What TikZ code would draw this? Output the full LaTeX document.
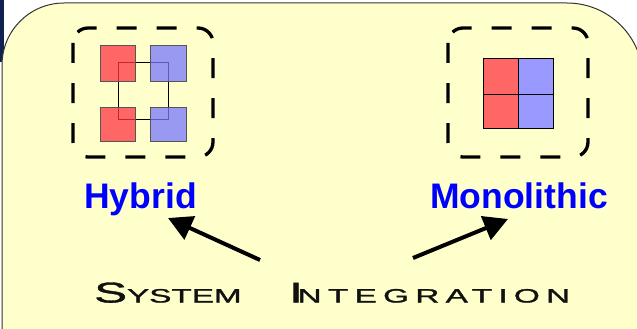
\documentclass[tikz,border=0pt]{standalone}
\usepackage{graphicx}
\usepackage{fontspec}
\setmainfont{Liberation Sans}
\newfontfamily\labelfont[BoldFont={Liberation Sans Bold}]{Liberation Sans}
\newfontfamily\titlefont[FakeBold=1.2]{Liberation Sans}
\newfontfamily\titlefontwide[LetterSpace=19,FakeBold=1.2]{Liberation Sans}
\usetikzlibrary{arrows.meta}

\definecolor{panelfill}{RGB}{255,255,204}
\definecolor{panelline}{RGB}{51,51,51}
\definecolor{navystrip}{RGB}{16,32,80}
\definecolor{chipred}{RGB}{255,51,68}
\definecolor{chipblue}{RGB}{119,119,255}
\definecolor{solidred}{RGB}{255,102,102}
\definecolor{solidblue}{RGB}{153,153,255}
\definecolor{labelblue}{RGB}{0,0,255}
\definecolor{titleink}{RGB}{17,17,17}

\tikzset{
  panel/.style={fill=panelfill, draw=panelline, line width=1pt},
  package/.style={draw=black, line width=3.3pt, dash pattern=on 20pt off 20pt,
    rounded corners=15pt},
  redchip/.style={fill=chipred, fill opacity=0.75, draw={rgb,255:red,85;green,85;blue,85}, line width=1pt},
  bluechip/.style={fill=chipblue, fill opacity=0.75, draw={rgb,255:red,85;green,85;blue,85}, line width=1pt},
  cell/.style={draw=black, line width=1pt},
  lbl/.style={anchor=base, inner sep=0pt, text=labelblue,
    font=\labelfont\bfseries\fontsize{35.5}{40}\selectfont},
  pointer/.style={draw=black, line width=4pt,
    -{Triangle[length=24pt,width=25pt]}},
}

\newcommand\titlecap[1]{{\fontsize{28}{30}\selectfont #1}}
\newcommand\titlesmall[1]{{\fontsize{18.9}{20}\selectfont #1}}

\begin{document}
\begin{tikzpicture}[x=1pt,y=-1pt]
\useasboundingbox (0,0) rectangle (637,329);
\clip (0,0) rectangle (637,329);
\fill[white] (0,0) rectangle (637,329);
\fill[navystrip] (0,0) rectangle (4,62);

% slide panel with rounded upper corners
\draw[panel] (2,340) -- (2,65) arc[start angle=180,end angle=90,radius=62pt]
  -- (567,3) arc[start angle=90,end angle=0,radius=76pt] -- (643,340);

% hybrid package: four dies around a carrier
\draw[package] (73,28) rectangle (213,157);
\draw[cell] (118,63) rectangle (168,119);
\draw[redchip]  (100,46)  rectangle (135,81);
\draw[bluechip] (150,46)  rectangle (186,81);
\draw[redchip]  (100,107) rectangle (135,141);
\draw[bluechip] (150,107) rectangle (186,141);

% monolithic package: one die with four regions
\draw[package] (448,28) rectangle (588,157);
\fill[solidred]  (483,59) rectangle (518,128);
\fill[solidblue] (518,59) rectangle (553,128);
\draw[cell] (483,59) rectangle (553,128);
\draw[cell] (518,59) -- (518,128);
\draw[cell] (483,94) -- (553,94);

% labels
\node[lbl] (hybrid) at (140.5,208) {Hybrid};
\node[lbl] (mono) at (519,208) {Monolithic};

\node[anchor=south west, inner sep=0pt, text=titleink] (sys) at (94,303)
  {\resizebox{476pt}{20pt}{%
   {\titlefont\titlecap{S}\titlesmall{YSTEM}}\hspace{27pt}%
   {\titlefontwide\titlecap{I}\kern-3pt\titlesmall{NTEGRATION}}}};

% pointers from the title to both integration styles
\coordinate (ltail) at (260,260);
\coordinate (ltip) at (168,218);
\coordinate (rtail) at (413,258);
\coordinate (rtip) at (508,219);
\draw[pointer] (ltail) -- (ltip);
\draw[pointer] (rtail) -- (rtip);
\end{tikzpicture}
\end{document}
